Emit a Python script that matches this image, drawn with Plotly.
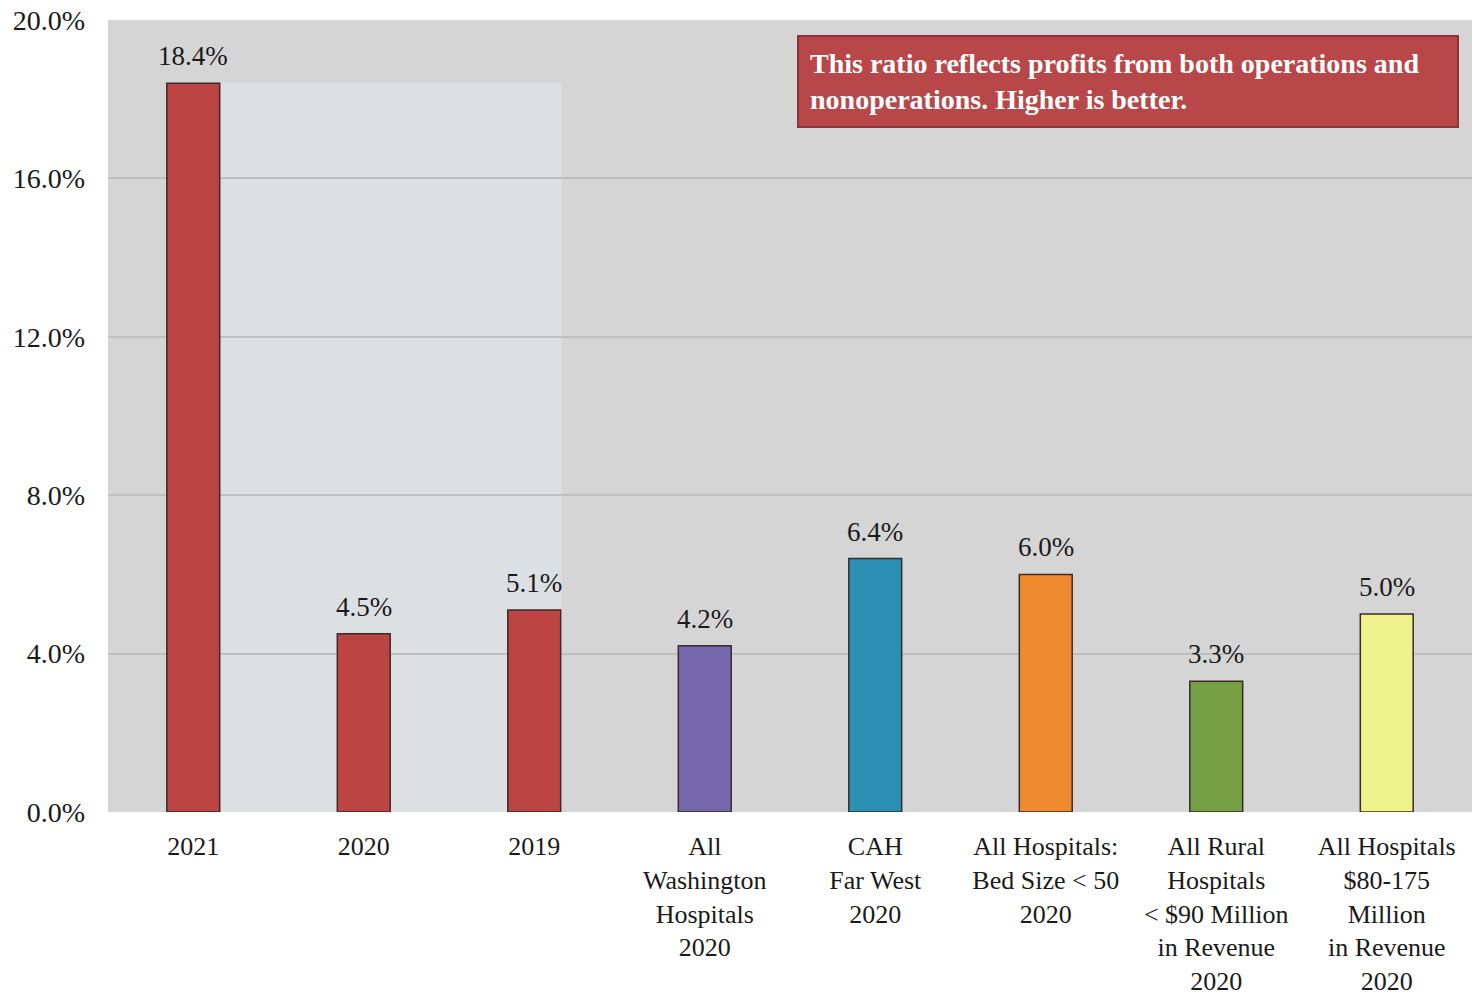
import plotly.graph_objects as go

categories = ["2021", "2020", "2019", "All<br>Washington<br>Hospitals<br>2020",
              "CAH<br>Far West<br>2020", "All Hospitals:<br>Bed Size < 50<br>2020",
              "All Rural<br>Hospitals<br>< $90 Million<br>in Revenue<br>2020",
              "All Hospitals<br>$80-175<br>Million<br>in Revenue<br>2020"]
values = [18.4, 4.5, 5.1, 4.2, 6.4, 6.0, 3.3, 5.0]
value_labels = ["18.4%", "4.5%", "5.1%", "4.2%", "6.4%", "6.0%", "3.3%", "5.0%"]
bar_colors = ["#bc4543", "#bc4543", "#bc4543", "#7668ad", "#2a8fb3", "#f08a30", "#74a043", "#eef28c"]
y_ticks = [0, 4, 8, 12, 16, 20]
y_tick_text = ["0.0%", "4.0%", "8.0%", "12.0%", "16.0%", "20.0%"]
note = "This ratio reflects profits from both operations and<br>nonoperations. Higher is better."

FONT = "Liberation Serif"
xs = list(range(len(categories)))

fig = go.Figure()
fig.add_trace(go.Bar(
    x=xs, y=values,
    marker=dict(color=bar_colors, line=dict(color="#3a2a2a", width=1.5)),
    width=0.31,
    hoverinfo="skip",
))

for x, v, lab in zip(xs, values, value_labels):
    fig.add_annotation(x=x, y=v, text=lab, showarrow=False, yanchor="bottom",
                       yshift=10, font=dict(family=FONT, size=27, color="#1a1a1a"))

# lighter panel behind 2020/2019
fig.add_shape(type="rect", xref="x", yref="y", x0=0.16, x1=2.16, y0=0, y1=18.4,
              fillcolor="#dde0e2", line=dict(width=0), layer="below")

fig.update_layout(
    width=1472, height=996,
    margin=dict(l=108, r=0, t=20, b=184, autoexpand=False),
    paper_bgcolor="white", plot_bgcolor="#d5d5d5",
    showlegend=False,
    font=dict(family=FONT, size=27, color="#1a1a1a"),
    xaxis=dict(tickmode="array", tickvals=xs, ticktext=categories,
               range=[-0.5, 7.5], showgrid=False, zeroline=False, showline=False,
               ticks="", ticklabelstandoff=16, automargin=False,
               tickfont=dict(family=FONT, size=26, color="#1a1a1a")),
    yaxis=dict(tickmode="array", tickvals=y_ticks, ticktext=y_tick_text, range=[0, 20],
               showgrid=True, gridcolor="#bfbfbf", gridwidth=1.5, zeroline=False,
               showline=False, ticks="", ticklabelstandoff=22, automargin=False,
               tickfont=dict(family=FONT, size=28, color="#1a1a1a")),
)

fig.add_annotation(
    xref="paper", yref="paper", x=0.505, y=0.981, xanchor="left", yanchor="top",
    text=note, showarrow=False, align="left",
    font=dict(family=FONT, size=28, color="white", weight="bold"),
    bgcolor="#b8474a", bordercolor="#8e3335", borderwidth=2, borderpad=11,
    width=636,
)

fig.write_html("out.html")
